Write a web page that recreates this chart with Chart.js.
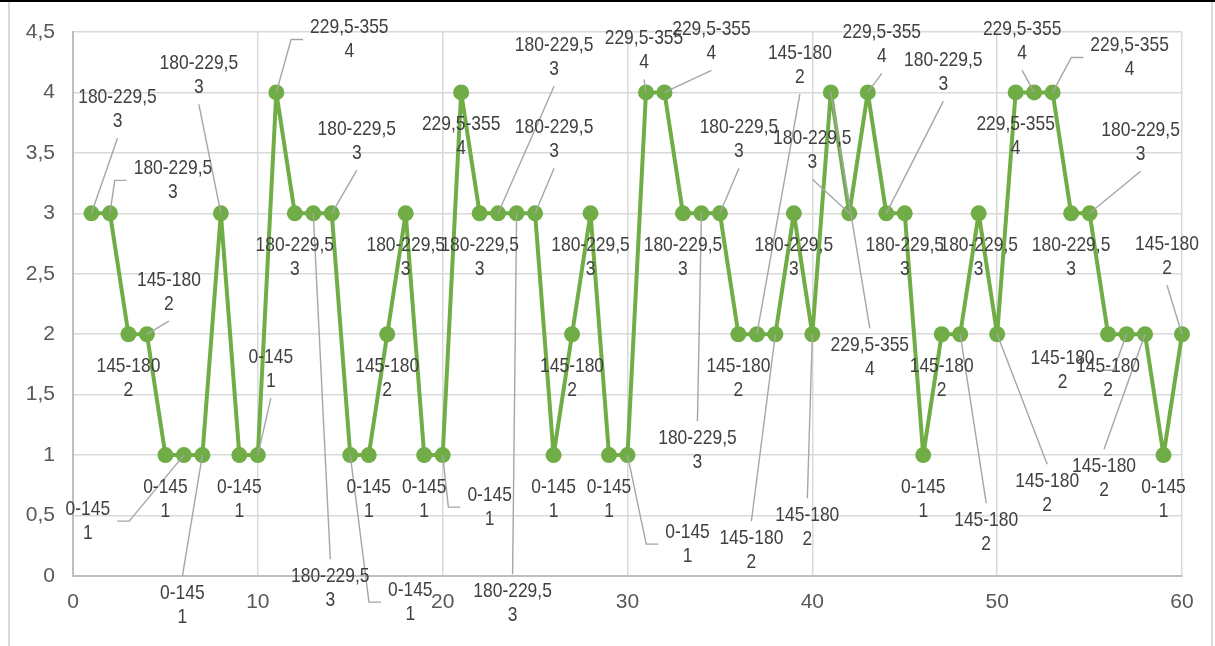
<!DOCTYPE html>
<html>
<head>
<meta charset="utf-8">
<script src="https://cdn.jsdelivr.net/npm/chart.js@4.4.1/dist/chart.umd.min.js"></script>
<style>
  html, body { margin: 0; padding: 0; background: #ffffff; }
  #c { display: block; }
</style>
</head>
<body>
<canvas id="c" width="1215" height="646"></canvas>
<script>
// Observation number along the x axis
const positions = [1,2,3,4,5,6,7,8,9,10,11,12,13,14,15,16,17,18,19,20,
                   21,22,23,24,25,26,27,28,29,30,31,32,33,34,35,36,37,38,39,40,
                   41,42,43,44,45,46,47,48,49,50,51,52,53,54,55,56,57,58,59,60];
// Class number of each observation (1..4)
const classValues = [3,3,2,2,1,1,1,3,1,1,4,3,3,3,1,1,2,3,1,1,
                     4,3,3,3,3,1,2,3,1,1,4,4,3,3,3,2,2,2,3,2,
                     4,3,4,3,3,1,2,2,3,2,4,4,4,3,3,2,2,2,1,2];
// Interval name of each class
const classRanges = ['0-145', '145-180', '180-229,5', '229,5-355'];
// Axis tick labels
const yTickLabels = ['0','0,5','1','1,5','2','2,5','3','3,5','4','4,5'];
const xTickLabels = ['0','10','20','30','40','50','60'];

// Label placement (pixel shift of the label block from its point); null = default below the point
const labelShift = [
  [26,-104],[63,-33],null,[22,-42],null,[-96,66],[-20,150],[-22,-138],null,[13,-86],
  [73,-53],null,[17,375],[25,-72],[60,147],null,null,null,null,[47,52],
  null,null,[56,-156],[-4,390],[19,-74],null,null,null,null,[60,89],
  [-2,-42],[47,-51],null,[-4,237],[19,-74],null,[43,-269],[-24,216],null,[-5,193],
  [39,265],[-37,-63],[14,-48],[57,-141],null,null,null,[26,198],null,[50,159],
  null,[-12,-51],[77,-35],null,[51,-71],null,[-64,36],[-41,144],null,[-15,-78]
];

const FONT = '"Liberation Sans", Arial, sans-serif';
const LABEL_SQUEEZE = 0.83;   // condensed look of the data labels
const GREEN = '#70ad47';

// Outer frame of the chart
const framePlugin = {
  id: 'frame',
  beforeDraw(chart) {
    const ctx = chart.ctx;
    ctx.save();
    ctx.fillStyle = '#ffffff';
    ctx.fillRect(0, 0, chart.width, chart.height);
    ctx.strokeStyle = '#d9d9d9';
    ctx.lineWidth = 2;
    ctx.beginPath();
    ctx.moveTo(9, 0); ctx.lineTo(9, chart.height);
    ctx.moveTo(1212, 0); ctx.lineTo(1212, chart.height);
    ctx.stroke();
    ctx.strokeStyle = '#000000';
    ctx.lineWidth = 2;
    ctx.beginPath();
    ctx.moveTo(0, 1); ctx.lineTo(chart.width, 1);
    ctx.stroke();
    ctx.restore();
  }
};

// Two-line data labels ("range" / value) with leader lines
const labelPlugin = {
  id: 'rangeLabels',
  afterDatasetsDraw(chart) {
    const ctx = chart.ctx;
    const meta = chart.getDatasetMeta(0);
    const lineGap = 24;
    ctx.save();
    ctx.font = '21px ' + FONT;
    const items = meta.data.map((pt, i) => {
      const v = classValues[i];
      const lines = [classRanges[v - 1], String(v)];
      const shift = labelShift[i] || [0, 44];
      const w = Math.max(...lines.map(t => ctx.measureText(t).width)) * LABEL_SQUEEZE;
      return { px: pt.x, py: pt.y, cx: pt.x + shift[0], cy: pt.y + shift[1], lines, half: w / 2, moved: !!labelShift[i] };
    });
    // leader lines
    ctx.strokeStyle = '#a6a6a6';
    ctx.lineWidth = 1.4;
    items.forEach(it => {
      if (!it.moved) return;
      const dx = it.cx - it.px;
      ctx.beginPath();
      if (Math.abs(dx) > it.half + 20) {
        const sgn = dx > 0 ? -1 : 1;
        const edge = it.cx + sgn * (it.half + 7);
        const knee = edge + sgn * 12;
        ctx.moveTo(edge, it.cy);
        ctx.lineTo(knee, it.cy);
        ctx.lineTo(it.px, it.py);
      } else {
        const ey = it.cy < it.py ? it.cy + 29 : it.cy - 29;
        ctx.moveTo(it.cx, ey);
        ctx.lineTo(it.px, it.py);
      }
      ctx.stroke();
    });
    // text
    ctx.fillStyle = '#404040';
    ctx.textAlign = 'center';
    ctx.textBaseline = 'middle';
    items.forEach(it => {
      it.lines.forEach((t, k) => {
        ctx.save();
        ctx.translate(it.cx, it.cy + (k === 0 ? -lineGap / 2 : lineGap / 2));
        ctx.scale(LABEL_SQUEEZE, 1);
        ctx.fillText(t, 0, 0);
        ctx.restore();
      });
    });
    ctx.restore();
  }
};

const points = positions.map((x, i) => ({ x: x, y: classValues[i] }));

new Chart(document.getElementById('c'), {
  type: 'line',
  data: {
    datasets: [{
      data: points,
      borderColor: GREEN,
      backgroundColor: GREEN,
      borderWidth: 4,
      borderJoinStyle: 'round',
      pointRadius: 8,
      pointBorderWidth: 0,
      pointBackgroundColor: GREEN,
      tension: 0,
      clip: false
    }]
  },
  options: {
    responsive: false,
    animation: false,
    devicePixelRatio: 1,
    layout: { padding: { left: 0, right: 33, top: 32, bottom: 30 } },
    plugins: { legend: { display: false }, tooltip: { enabled: false } },
    scales: {
      x: {
        type: 'linear',
        min: 0, max: 60,
        afterFit(s) { s.height = 40; },
        grid: { color: '#d9d9d9', lineWidth: 1.5, drawTicks: false },
        border: { color: '#bfbfbf', width: 2 },
        ticks: {
          stepSize: 10, padding: 14, color: '#595959',
          font: { family: FONT, size: 21 },
          callback: (v) => xTickLabels[Math.round(v / 10)]
        }
      },
      y: {
        min: 0, max: 4.5,
        afterFit(s) { s.width = 73; },
        grid: { color: '#d9d9d9', lineWidth: 1.5, drawTicks: false },
        border: { color: '#bfbfbf', width: 2 },
        ticks: {
          stepSize: 0.5, padding: 18, color: '#595959',
          font: { family: FONT, size: 21 },
          callback: (v) => yTickLabels[Math.round(v * 2)]
        }
      }
    }
  },
  plugins: [framePlugin, labelPlugin]
});
</script>
</body>
</html>
